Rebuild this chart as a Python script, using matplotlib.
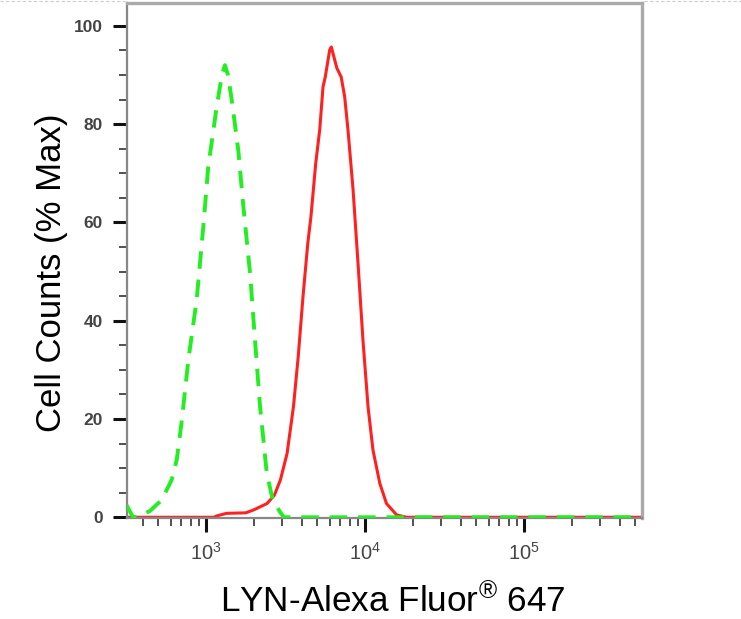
import numpy as np
import matplotlib
matplotlib.use("Agg")
import matplotlib.pyplot as plt
from matplotlib.ticker import LogLocator, MultipleLocator, FixedLocator, NullFormatter
from matplotlib.lines import Line2D

plt.rcParams['font.family'] = ['Liberation Sans', 'DejaVu Sans']
plt.rcParams['mathtext.fontset'] = 'custom'
plt.rcParams['mathtext.rm'] = 'Liberation Sans'
plt.rcParams['mathtext.it'] = 'Liberation Sans'
plt.rcParams['mathtext.bf'] = 'Liberation Sans:bold'

# isotype control (green dashed), log10 of intensity vs % max
ctrl_logx = [2.50, 2.541, 2.585, 2.648, 2.721, 2.784, 2.816, 2.847, 2.889, 2.941,
             2.983, 3.014, 3.067, 3.10, 3.119, 3.138, 3.162, 3.203, 3.235, 3.277,
             3.308, 3.340, 3.382, 3.42, 3.445, 3.465, 3.49, 4.0, 5.0, 5.75]
ctrl_pct = [2.5, 0.0, 0.2, 1.3, 3.5, 7.6, 11.7, 19.5, 32.0, 44.2,
            59.1, 71.3, 83.5, 90.0, 92.0, 90.0, 84.9, 74.7, 63.2, 49.7,
            36.1, 22.5, 9.0, 3.5, 2.2, 1.1, 0.0, 0.0, 0.0, 0.0]

# LYN stained sample (red solid)
lyn_logx = [2.50, 3.05, 3.07, 3.13, 3.25, 3.30, 3.384, 3.43, 3.468, 3.51,
            3.55, 3.58, 3.61, 3.64, 3.66, 3.69, 3.715, 3.736, 3.75, 3.778,
            3.788, 3.81, 3.823, 3.85, 3.872, 3.893, 3.925, 3.956, 3.987, 4.019,
            4.05, 4.093, 4.135, 4.198, 4.26, 5.0, 5.75]
lyn_pct = [0.0, 0.0, 0.3, 0.8, 0.9, 1.5, 2.8, 4.5, 7.6, 13.0,
           22.5, 32.7, 44.9, 55.7, 61.2, 72.0, 78.8, 87.6, 89.6, 95.1,
           95.7, 93.0, 91.4, 89.6, 85.6, 78.8, 66.6, 51.7, 36.1, 22.5,
           13.7, 6.9, 2.8, 0.5, 0.0, 0.0, 0.0]

y_ticks = [0, 20, 40, 60, 80, 100]
x_ticks = [1e3, 1e4, 1e5]
x_ticklabels = [r'$10^3$', r'$10^4$', r'$10^5$']

fig = plt.figure(figsize=(7.41, 6.19), dpi=100)
ax = fig.add_axes([126.5 / 741, 1 - 518 / 619, (642 - 126.5) / 741, (518 - 3) / 619])

ax.plot(10 ** np.array(ctrl_logx), ctrl_pct, color='#22ee22', lw=2.8,
        dashes=(4.5, 2.8), zorder=3)
ax.plot(10 ** np.array(lyn_logx), lyn_pct, color='#ff2020', lw=2.2, zorder=2)

ax.set_xscale('log')
ax.set_xlim(10 ** 2.5, 10 ** 5.742)
ax.set_ylim(-0.15, 104.65)

ax.xaxis.set_major_locator(FixedLocator(x_ticks))
ax.set_xticklabels(x_ticklabels)
ax.xaxis.set_minor_locator(LogLocator(base=10, subs=np.arange(2, 10)))
ax.xaxis.set_minor_formatter(NullFormatter())
ax.set_yticks(y_ticks)
ax.yaxis.set_minor_locator(MultipleLocator(5))

ax.tick_params(which='major', length=10, width=2.2, color='#111111')
ax.tick_params(which='minor', length=5.5, width=1.2, color='#333333')
ax.tick_params(axis='y', which='major', labelsize=12.5, labelcolor='#444444', pad=7)
ax.tick_params(axis='x', which='major', labelsize=14.5, labelcolor='#444444', pad=7)
for lab in ax.get_yticklabels():
    lab.set_fontweight('bold')

for side in ['top', 'right']:
    ax.spines[side].set_color('#aaaaaa')
    ax.spines[side].set_linewidth(2.4)
for side in ['left', 'bottom']:
    ax.spines[side].set_color('#888888')
    ax.spines[side].set_linewidth(1.6)

fig.text(52 / 741, 1 - 273 / 619, 'Cell Counts (% Max)', rotation=90,
         ha='center', va='center', fontsize=25, color='black')
fig.text(393 / 741, 1 - 601 / 619, 'LYN-Alexa Fluor$^{®}$ 647',
         ha='center', va='center', fontsize=25.3, color='black')

# screenshot frame remnants along the top edge
fig.add_artist(Line2D([0, 125 / 741], [0.998, 0.998], color='#cccccc', lw=0.8,
                      ls=(0, (3, 2))))
fig.add_artist(Line2D([644 / 741, 1], [0.998, 0.998], color='#cccccc', lw=0.8,
                      ls=(0, (3, 2))))

fig.savefig('out.png', dpi=100)
